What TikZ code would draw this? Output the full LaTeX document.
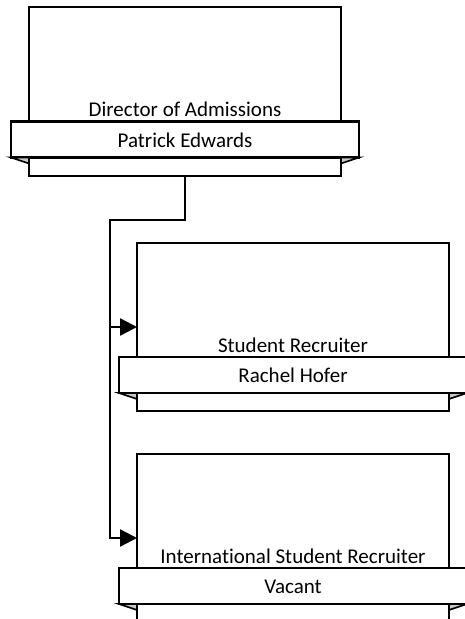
\documentclass[tikz,border=0pt]{standalone}
\usepackage{fontspec}
\setmainfont{Carlito}[Ligatures={NoCommon}]
\usetikzlibrary{arrows.meta}
\definecolor{foldgray}{HTML}{C8C8C8}
\begin{document}
\begin{tikzpicture}[x=1pt,y=-1pt,
  box/.style={draw=black,line width=2.2pt,fill=white,minimum width=312pt,minimum height=168pt,inner sep=0pt,outer sep=0pt},
  banner/.style={draw=black,line width=2.2pt,fill=white,minimum width=348pt,minimum height=36pt,inner sep=0pt,outer sep=0pt},
  fold/.style={draw=black,line width=1.6pt,fill=foldgray,line join=miter},
  txt/.style={font=\fontsize{21}{24}\selectfont,anchor=base,inner sep=0pt},
  conn/.style={draw=black,line width=2.4pt},
  tip/.style={-{Triangle[length=17pt,width=17pt]}}
]
\useasboundingbox (0,0) rectangle (464,619);
% box 1
\node[box,minimum height=169pt] (b1) at (185,91.5) {};
\node[banner] (n1) at (185,139.5) {};
\filldraw[fold] (n1.south west) -- (b1.west |- n1.south) -- ++(0,6) -- cycle;
\filldraw[fold] (n1.south east) -- (b1.east |- n1.south) -- ++(0,6) -- cycle;
\node[txt] (t1) at (185,116) {Director of Admissions};
\node[txt] (p1) at (185,147) {Patrick Edwards};
% box 2
\node[box] (b2) at (293,327) {};
\node[banner] (n2) at (293,375) {};
\filldraw[fold] (n2.south west) -- (b2.west |- n2.south) -- ++(0,6) -- cycle;
\filldraw[fold] (n2.south east) -- (b2.east |- n2.south) -- ++(0,6) -- cycle;
\node[txt] (t2) at (293,352) {Student Recruiter};
\node[txt] (p2) at (293,382) {Rachel Hofer};
% box 3
\node[box] (b3) at (293,538) {};
\node[banner] (n3) at (293,586) {};
\filldraw[fold] (n3.south west) -- (b3.west |- n3.south) -- ++(0,6) -- cycle;
\filldraw[fold] (n3.south east) -- (b3.east |- n3.south) -- ++(0,6) -- cycle;
\node[txt] (t3) at (293,563) {International Student Recruiter};
\node[txt] (p3) at (293,593) {Vacant};
% connectors
\coordinate (j) at (110,220);
\draw[conn,tip] (b1.south) |- (j) |- (b2.west);
\draw[conn,tip] (j) |- (b3.west);
\end{tikzpicture}
\end{document}
